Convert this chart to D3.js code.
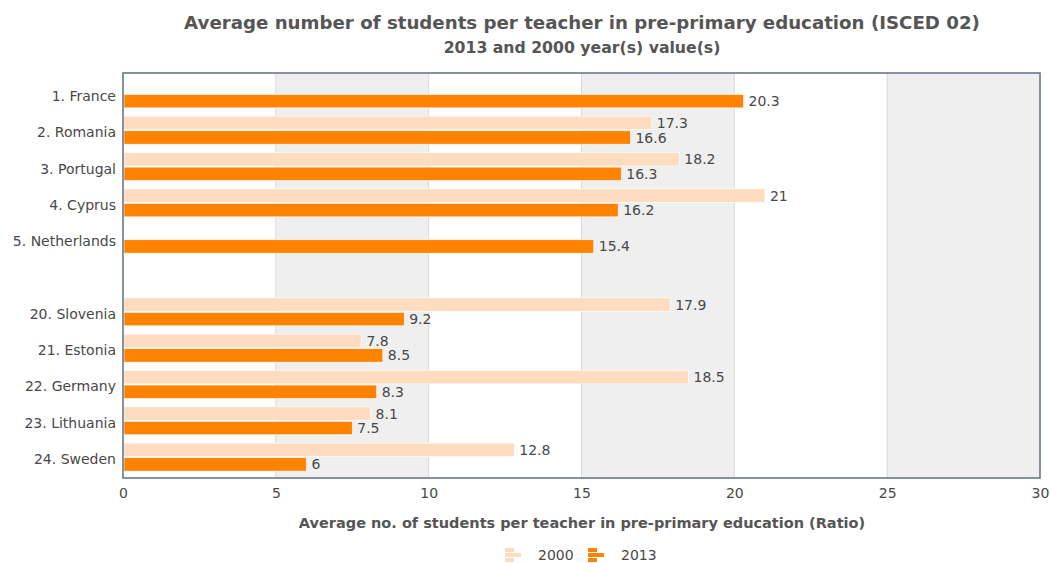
<!DOCTYPE html>
<meta charset="utf-8">
<script src="https://d3js.org/d3.v7.min.js"></script>
<div id="chart"></div>
<style>
  body { margin: 0; background: #fff; font-family: "DejaVu Sans", Verdana, sans-serif; }
</style>
<script>

// data
var countries = ["1. France", "2. Romania", "3. Portugal", "4. Cyprus", "5. Netherlands", "",
                 "20. Slovenia", "21. Estonia", "22. Germany", "23. Lithuania", "24. Sweden"];
var years = ["2000", "2013"];
var values2000 = [null, 17.3, 18.2, 21, null, null, 17.9, 7.8, 18.5, 8.1, 12.8];
var values2013 = [20.3, 16.6, 16.3, 16.2, 15.4, null, 9.2, 8.5, 8.3, 7.5, 6];
var xTicks = [0, 5, 10, 15, 20, 25, 30];

var colors = {"2000": "#fddcc0", "2013": "#ff8200"};

var width = 1050, height = 563;
var margin = {top: 73, right: 10, bottom: 85, left: 123};
var plotW = 1040 - margin.left, plotH = 478 - margin.top;

var svg = d3.select("#chart").append("svg")
    .attr("width", width)
    .attr("height", height);

// titles
svg.append("text")
    .attr("x", 582).attr("y", 29)
    .attr("text-anchor", "middle")
    .style("font-size", "18.2px").style("font-weight", "bold").style("fill", "#555")
    .text("Average number of students per teacher in pre-primary education (ISCED 02)");
svg.append("text")
    .attr("x", 582).attr("y", 53)
    .attr("text-anchor", "middle")
    .style("font-size", "15.7px").style("font-weight", "bold").style("fill", "#555")
    .text("2013 and 2000 year(s) value(s)");

var g = svg.append("g").attr("transform", "translate(" + margin.left + "," + margin.top + ")");

var x = d3.scaleLinear().domain([0, 30]).range([0, plotW]);
var y = d3.scaleBand().domain(countries.map(function(d, i) { return i; }))
    .range([0, plotH]).paddingInner(0.23).paddingOuter(0.19);
var ySub = d3.scaleBand().domain(years).range([0, y.bandwidth()]).paddingInner(0.08);

// alternating background bands
g.selectAll("rect.bg")
  .data(d3.range(0, 30, 5))
  .enter().append("rect")
    .attr("class", "bg")
    .attr("x", function(d) { return x(d); })
    .attr("width", function(d) { return x(d + 5) - x(d); })
    .attr("y", 0).attr("height", plotH)
    .style("fill", function(d, i) { return i % 2 ? "#efefef" : "#fff"; });

// grid lines
g.selectAll("line.grid")
  .data(xTicks.slice(1, -1))
  .enter().append("line")
    .attr("x1", function(d) { return x(d); }).attr("x2", function(d) { return x(d); })
    .attr("y1", 0).attr("y2", plotH)
    .style("stroke", "#d9d9d9").style("stroke-width", 1);

// bars
var rows = countries.map(function(c, i) {
  return {i: i, name: c, vals: [{year: "2000", v: values2000[i]}, {year: "2013", v: values2013[i]}]};
});

var group = g.selectAll("g.row")
  .data(rows)
  .enter().append("g")
    .attr("transform", function(d) { return "translate(0," + y(d.i) + ")"; });

var bar = group.selectAll("g.bar")
  .data(function(d) { return d.vals.filter(function(e) { return e.v != null; }); })
  .enter().append("g");

bar.append("rect")
    .attr("x", 1)
    .attr("y", function(d) { return ySub(d.year); })
    .attr("width", function(d) { return x(d.v) - 1; })
    .attr("height", ySub.bandwidth())
    .style("fill", function(d) { return colors[d.year]; })
    .style("stroke", "#fff").style("stroke-width", 0.6);

bar.append("text")
    .attr("x", function(d) { return x(d.v) + 5; })
    .attr("y", function(d) { return ySub(d.year) + ySub.bandwidth() / 2; })
    .attr("dy", "0.36em")
    .style("font-size", "14px").style("fill", "#484848")
    .text(function(d) { return d.v; });

// category labels
group.append("text")
    .attr("x", -7)
    .attr("y", y.bandwidth() / 2 + 2)
    .attr("dy", "0.36em")
    .attr("text-anchor", "end")
    .style("font-size", "14px").style("fill", "#484848")
    .text(function(d) { return d.name; });

// plot frame
g.append("rect")
    .attr("x", 0).attr("y", 0).attr("width", plotW).attr("height", plotH)
    .style("fill", "none").style("stroke", "#66788a").style("stroke-width", 1.6);

// x axis
var xAxis = g.append("g")
    .attr("transform", "translate(0," + plotH + ")")
    .call(d3.axisBottom(x).tickValues(xTicks).tickSize(0).tickPadding(10));
xAxis.select(".domain").remove();
xAxis.selectAll("text")
    .style("font-family", "DejaVu Sans, Verdana, sans-serif")
    .style("font-size", "14px").style("fill", "#484848");

svg.append("text")
    .attr("x", 582).attr("y", 528)
    .attr("text-anchor", "middle")
    .style("font-size", "14.5px").style("font-weight", "bold").style("fill", "#555")
    .text("Average no. of students per teacher in pre-primary education (Ratio)");

// legend
var legend = svg.append("g").attr("transform", "translate(505,548)");
var items = legend.selectAll("g")
  .data(years)
  .enter().append("g")
    .attr("transform", function(d, i) { return "translate(" + (i * 83) + ",0)"; });
items.selectAll("rect")
  .data(function(d) { return [{y: 0, w: 9, c: colors[d]}, {y: 5, w: 16, c: colors[d]}, {y: 10, w: 9, c: colors[d]}]; })
  .enter().append("rect")
    .attr("x", 0).attr("y", function(d) { return d.y; })
    .attr("width", function(d) { return d.w; }).attr("height", 4)
    .style("fill", function(d) { return d.c; });
items.append("text")
    .attr("x", 33).attr("y", 7)
    .attr("dy", "0.36em")
    .style("font-size", "14px").style("fill", "#484848")
    .text(function(d) { return d; });

</script>
